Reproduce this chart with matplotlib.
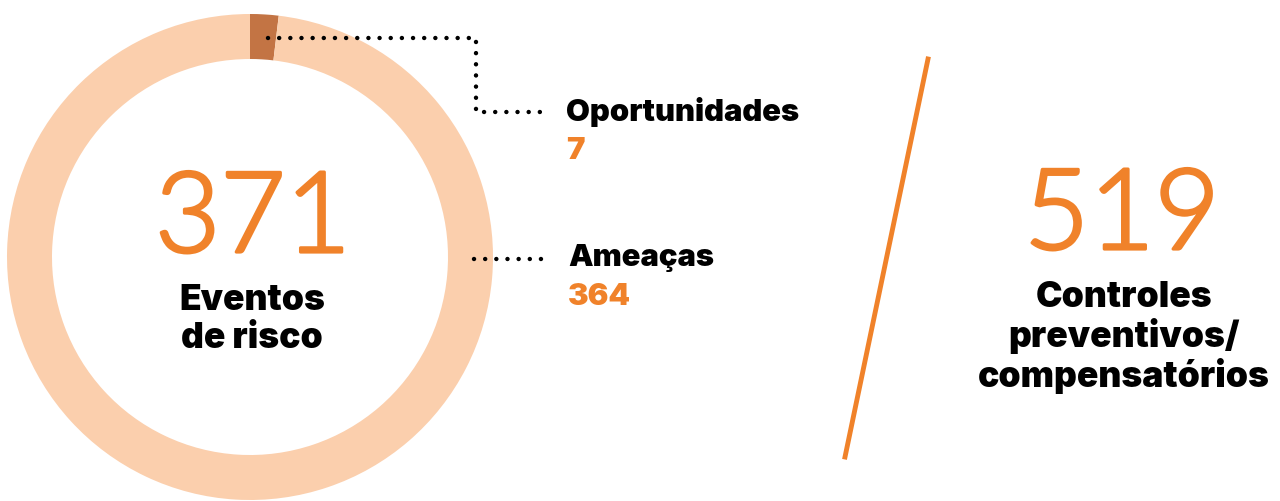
import matplotlib.pyplot as plt
import matplotlib.patheffects as pe

# dados
categorias = ["Oportunidades", "Ameaças"]
valores = [7, 364]
total_eventos = 371
total_controles = 519
rotulo_eventos = ["Eventos", "de risco"]
rotulo_controles = ["Controles", "preventivos/", "compensatórios"]

laranja = "#F0822A"
claro = "#FBCFAD"
escuro = "#C37444"

W, H = 1280, 502
fig = plt.figure(figsize=(W / 100, H / 100), dpi=100)
ax = fig.add_axes([0, 0, 1, 1])

def py(y):
    # coordenada em pixel (de cima) -> dados
    return H - y

cx, cy, r = 250, py(258), 243
ax.pie(valores, colors=[escuro, claro], startangle=90, counterclock=False,
       radius=r, center=(cx, cy), wedgeprops=dict(width=45, linewidth=0),
       frame=True)
ax.set_xlim(0, W)
ax.set_ylim(0, H)
ax.set_aspect("equal")
ax.axis("off")

pontos = dict(color="black", linewidth=3.2, linestyle=(0, (0.01, 2.5)),
              dash_capstyle="round")
ax.plot([268, 476, 476, 545], [py(39), py(39), py(113), py(113)], **pontos)
ax.plot([474, 545], [py(260), py(260)], **pontos)

negrito = "Inter"
leve = "Lato"
ax.text(566, py(112), categorias[0], fontsize=22.3, fontweight=900,
        family=negrito, ha="left", va="center")
ax.text(566, py(151), str(valores[0]), fontsize=22.3, fontweight=900,
        family=negrito, ha="left", va="center", color=laranja)
ax.text(568, py(258), categorias[1], fontsize=22.3, fontweight=900,
        family=negrito, ha="left", va="center")
ax.text(568, py(297), str(valores[1]), fontsize=22.3, fontweight=900,
        family=negrito, ha="left", va="center", color=laranja)

grosso = [pe.withStroke(linewidth=2.3, foreground=laranja)]
ax.text(253, py(253), str(total_eventos), fontsize=81, fontweight=300,
        family=leve, ha="center", va="baseline", color=laranja,
        path_effects=grosso)
for i, linha in enumerate(rotulo_eventos):
    ax.text(252, py(310 + 38 * i), linha, fontsize=25.5, fontweight=900,
            family=negrito, ha="center", va="baseline")

ax.plot([928, 845], [py(60), py(458)], color=laranja, linewidth=3.5)

ax.text(1122, py(250), str(total_controles), fontsize=81, fontweight=300,
        family=leve, ha="center", va="baseline", color=laranja,
        path_effects=grosso)
for i, linha in enumerate(rotulo_controles):
    ax.text(1124, py(307 + 40 * i), linha, fontsize=25.5, fontweight=900,
            family=negrito, ha="center", va="baseline")

fig.savefig("out.png", dpi=100)
